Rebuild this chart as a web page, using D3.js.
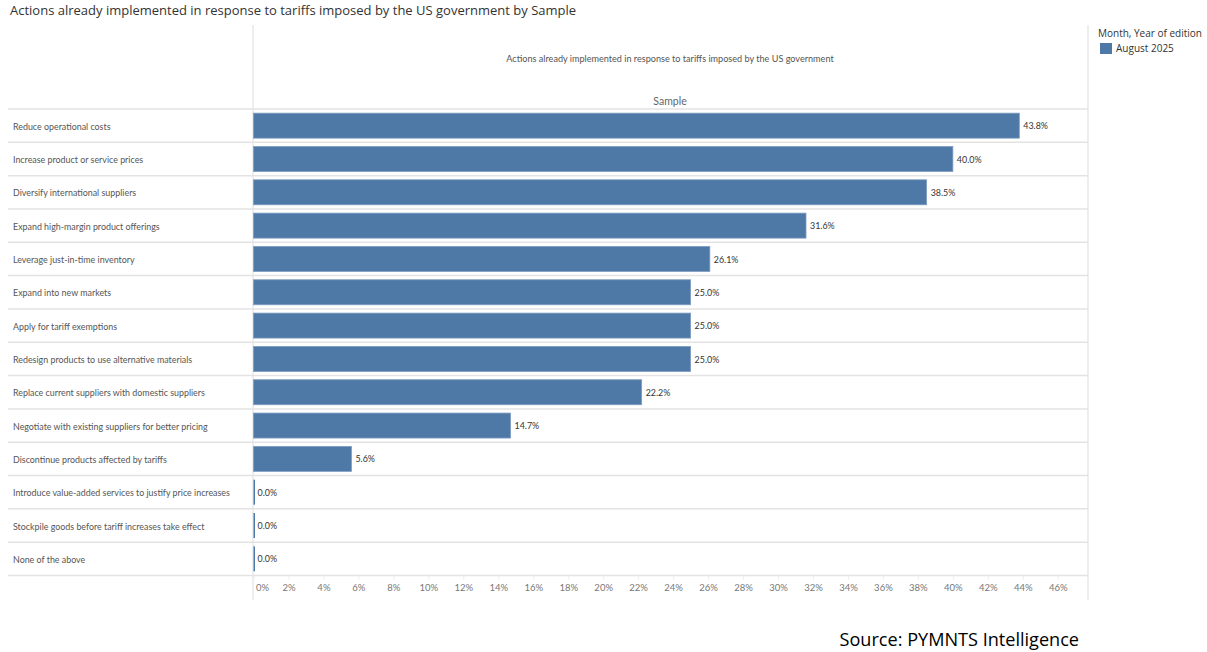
<!DOCTYPE html>
<html>
<head>
<meta charset="utf-8">
<script src="https://cdn.jsdelivr.net/npm/d3@7"></script>
<style>
  body { margin: 0; background: #fff; }
  svg { display: block; }
</style>
</head>
<body>
<div id="grafico"></div>
<script>
// Datos
var acciones = [
  "Reduce operational costs",
  "Increase product or service prices",
  "Diversify international suppliers",
  "Expand high-margin product offerings",
  "Leverage just-in-time inventory",
  "Expand into new markets",
  "Apply for tariff exemptions",
  "Redesign products to use alternative materials",
  "Replace current suppliers with domestic suppliers",
  "Negotiate with existing suppliers for better pricing",
  "Discontinue products affected by tariffs",
  "Introduce value-added services to justify price increases",
  "Stockpile goods before tariff increases take effect",
  "None of the above"
];
var valores = [43.8, 40.0, 38.5, 31.6, 26.1, 25.0, 25.0, 25.0, 22.2, 14.7, 5.6, 0.0, 0.0, 0.0];
var ticks = [0, 2, 4, 6, 8, 10, 12, 14, 16, 18, 20, 22, 24, 26, 28, 30, 32, 34, 36, 38, 40, 42, 44, 46];
var serie = "August 2025";

var W = 1207, H = 652;
var azul = "#4e79a7", gris = "#e3e3e3";
var fuente = "Lato, 'Open Sans', sans-serif";

var svg = d3.select("#grafico").append("svg")
  .attr("width", W).attr("height", H);

// Area del grafico
var izq = 8, x0 = 253.5, der = 1087.5, arriba = 109, abajo = 575.5;

var x = d3.scaleLinear().domain([0, 47.7]).range([x0, der]);
var y = d3.scaleBand().domain(acciones).range([arriba, abajo]).paddingInner(0.25).paddingOuter(0.125);
var filas = d3.scaleBand().domain(acciones).range([arriba, abajo]);

// Titulo
svg.append("text")
  .attr("x", 10).attr("y", 15)
  .attr("font-family", "'Open Sans', sans-serif").attr("font-size", 13)
  .attr("fill", "#333")
  .text("Actions already implemented in response to tariffs imposed by the US government by Sample");

// Lineas verticales del marco
svg.append("line").attr("x1", 253).attr("x2", 253).attr("y1", 25).attr("y2", 600)
  .attr("stroke", gris).attr("stroke-width", 1.2);
svg.append("line").attr("x1", 1088).attr("x2", 1088).attr("y1", 25).attr("y2", 600)
  .attr("stroke", gris).attr("stroke-width", 1.2);

// Cabecera
svg.append("text")
  .attr("x", 670).attr("y", 62).attr("text-anchor", "middle")
  .attr("font-family", fuente).attr("font-size", 9.1).attr("fill", "#555")
  .text("Actions already implemented in response to tariffs imposed by the US government");
svg.append("text")
  .attr("x", 670).attr("y", 105).attr("text-anchor", "middle")
  .attr("font-family", fuente).attr("font-size", 10.5).attr("fill", "#666")
  .text("Sample");

// Separadores de filas
svg.append("g").selectAll("line")
  .data([arriba].concat(acciones.map(function(d) { return filas(d) + filas.bandwidth(); })))
  .enter().append("line")
  .attr("x1", izq).attr("x2", 1088)
  .attr("y1", function(d) { return d; }).attr("y2", function(d) { return d; })
  .attr("stroke", gris).attr("stroke-width", 1.5);

// Etiquetas de filas
svg.append("g").selectAll("text")
  .data(acciones)
  .enter().append("text")
  .attr("x", 13)
  .attr("y", function(d) { return filas(d) + filas.bandwidth() / 2 + 1; })
  .attr("dy", "0.35em")
  .attr("font-family", fuente).attr("font-size", 8.9).attr("fill", "#555")
  .text(function(d) { return d; });

// Barras
svg.append("g").selectAll("rect")
  .data(valores)
  .enter().append("rect")
  .attr("x", x(0))
  .attr("y", function(d, i) { return y(acciones[i]); })
  .attr("width", function(d) { return Math.max(x(d) - x(0), 1.5); })
  .attr("height", y.bandwidth())
  .attr("fill", azul)
  .attr("stroke", function(d) { return d > 0 ? "#7e9cc0" : "none"; })
  .attr("stroke-width", 0.8);

// Valores
svg.append("g").selectAll("text")
  .data(valores)
  .enter().append("text")
  .attr("x", function(d) { return x(d) + 4; })
  .attr("y", function(d, i) { return filas(acciones[i]) + filas.bandwidth() / 2 + 0.5; })
  .attr("dy", "0.35em")
  .attr("font-family", fuente).attr("font-size", 8.9).attr("fill", "#333")
  .text(function(d) { return d.toFixed(1) + "%"; });

// Eje x
var eje = svg.append("g")
  .attr("transform", "translate(0," + abajo + ")")
  .call(d3.axisBottom(x).tickValues(ticks).tickSize(4).tickPadding(5)
    .tickFormat(function(d) { return d + "%"; }));
eje.select(".domain").remove();
eje.selectAll("line").attr("stroke", "#ececec");
eje.selectAll("text")
  .attr("font-family", fuente).attr("font-size", 9.5).attr("fill", "#777")
  .attr("text-anchor", function(d) { return d === 0 ? "start" : "middle"; })
  .attr("dx", function(d) { return d === 0 ? 2 : 0; });

// Leyenda
var leyenda = svg.append("g").attr("font-family", "'Open Sans', sans-serif");
leyenda.append("text").attr("x", 1098).attr("y", 37)
  .attr("font-size", 10).attr("fill", "#333").text("Month, Year of edition");
leyenda.append("rect").attr("x", 1100).attr("y", 43).attr("width", 12).attr("height", 11)
  .attr("fill", azul);
leyenda.append("text").attr("x", 1116).attr("y", 52)
  .attr("font-size", 10).attr("fill", "#333").text(serie);

// Fuente
svg.append("text")
  .attr("x", 1079).attr("y", 646).attr("text-anchor", "end")
  .attr("font-family", "'Open Sans', sans-serif").attr("font-size", 18.1).attr("fill", "#000")
  .text("Source: PYMNTS Intelligence");
</script>
</body>
</html>
